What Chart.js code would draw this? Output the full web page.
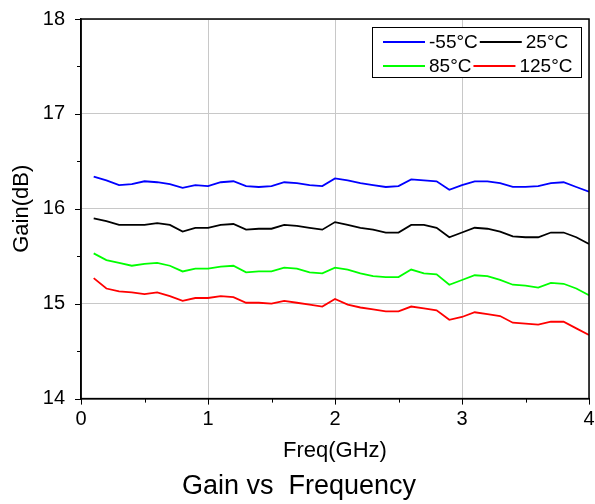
<!DOCTYPE html>
<html>
<head>
<meta charset="utf-8">
<script src="https://cdn.jsdelivr.net/npm/chart.js@4"></script>
<style>
  html, body { margin: 0; padding: 0; background: #fff; }
  #wrap { width: 595px; height: 504px; }
</style>
</head>
<body>
<div id="wrap"><canvas id="myChart" width="595" height="504"></canvas></div>
<script>
// frequency points (GHz)
var freq = [0.1, 0.2, 0.3, 0.4, 0.5, 0.6, 0.7, 0.8, 0.9, 1.0,
            1.1, 1.2, 1.3, 1.4, 1.5, 1.6, 1.7, 1.8, 1.9, 2.0,
            2.1, 2.2, 2.3, 2.4, 2.5, 2.6, 2.7, 2.8, 2.9, 3.0,
            3.1, 3.2, 3.3, 3.4, 3.5, 3.6, 3.7, 3.8, 3.9, 4.0];

// gain (dB) per temperature
var gainM55 = [16.34, 16.30, 16.25, 16.26, 16.29, 16.28, 16.26, 16.22, 16.25, 16.24,
               16.28, 16.29, 16.24, 16.23, 16.24, 16.28, 16.27, 16.25, 16.24, 16.32,
               16.30, 16.27, 16.25, 16.23, 16.24, 16.31, 16.30, 16.29, 16.20, 16.25,
               16.29, 16.29, 16.27, 16.23, 16.23, 16.24, 16.27, 16.28, 16.23, 16.18];
var gain25  = [15.90, 15.87, 15.83, 15.83, 15.83, 15.85, 15.83, 15.76, 15.80, 15.80,
               15.83, 15.84, 15.78, 15.79, 15.79, 15.83, 15.82, 15.80, 15.78, 15.86,
               15.83, 15.80, 15.78, 15.75, 15.75, 15.83, 15.83, 15.80, 15.70, 15.75,
               15.80, 15.79, 15.76, 15.71, 15.70, 15.70, 15.75, 15.75, 15.70, 15.63];
var gain85  = [15.53, 15.46, 15.43, 15.40, 15.42, 15.43, 15.40, 15.34, 15.37, 15.37,
               15.39, 15.40, 15.33, 15.34, 15.34, 15.38, 15.37, 15.33, 15.32, 15.38,
               15.36, 15.32, 15.29, 15.28, 15.28, 15.36, 15.32, 15.31, 15.20, 15.25,
               15.30, 15.29, 15.25, 15.20, 15.19, 15.17, 15.22, 15.21, 15.16, 15.09];
var gain125 = [15.27, 15.16, 15.13, 15.12, 15.10, 15.12, 15.08, 15.03, 15.06, 15.06,
               15.08, 15.07, 15.01, 15.01, 15.00, 15.03, 15.01, 14.99, 14.97, 15.05,
               14.99, 14.96, 14.94, 14.92, 14.92, 14.97, 14.95, 14.93, 14.83, 14.86,
               14.91, 14.89, 14.87, 14.80, 14.79, 14.78, 14.81, 14.81, 14.74, 14.67];

var seriesLabels = ['-55°C', '25°C', '85°C', '125°C'];
var seriesColors = ['#0000ff', '#000000', '#00ff00', '#ff0000'];
var seriesGains = [gainM55, gain25, gain85, gain125];

var FONT = "Arial, 'Liberation Sans', sans-serif";

function toPoints(g) {
    return freq.map(function (f, i) { return { x: f, y: g[i] }; });
}

var datasets = seriesGains.map(function (g, i) {
    return {
        label: seriesLabels[i],
        data: toPoints(g),
        borderColor: seriesColors[i],
        backgroundColor: seriesColors[i],
        borderWidth: 1.8,
        pointRadius: 0,
        tension: 0,
        fill: false
    };
});

function isMajor(v) { return Math.abs(v - Math.round(v)) < 1e-6; }

// frame on top/right + outward tick marks with minor ticks
var frameTicks = {
    id: 'frameTicks',
    afterDatasetsDraw: function (chart) {
        var c = chart.ctx, a = chart.chartArea;
        var xs = chart.scales.x, ys = chart.scales.y;
        c.save();
        c.strokeStyle = '#000';
        c.lineWidth = 1.5;
        c.strokeRect(a.left, a.top, a.right - a.left, a.bottom - a.top);
        c.lineWidth = 1;
        c.beginPath();
        xs.ticks.forEach(function (t) {
            var px = Math.round(xs.getPixelForValue(t.value)) + 0.5;
            var len = isMajor(t.value) ? 6 : 4;
            c.moveTo(px, a.bottom);
            c.lineTo(px, a.bottom + len);
        });
        ys.ticks.forEach(function (t) {
            var py = Math.round(ys.getPixelForValue(t.value)) + 0.5;
            var len = isMajor(t.value) ? 6 : 4;
            c.moveTo(a.left, py);
            c.lineTo(a.left - len, py);
        });
        c.stroke();
        c.restore();
    }
};

// boxed legend, two columns
var boxLegend = {
    id: 'boxLegend',
    afterDraw: function (chart) {
        var c = chart.ctx;
        var bx = 372, by = 27, bw = 209, bh = 50;
        c.save();
        c.fillStyle = '#fff';
        c.fillRect(bx, by, bw, bh);
        c.strokeStyle = '#000';
        c.lineWidth = 1;
        c.strokeRect(bx + 0.5, by + 0.5, bw, bh);
        c.font = '19px ' + FONT;
        c.textBaseline = 'middle';
        c.fillStyle = '#000';
        var rows = [[0, 1], [2, 3]];
        var rowY = [42, 66];
        rows.forEach(function (r, ri) {
            var x = 383, y = rowY[ri];
            r.forEach(function (di) {
                var ds = chart.data.datasets[di];
                c.strokeStyle = ds.borderColor;
                c.lineWidth = 1.8;
                c.beginPath();
                c.moveTo(x, y);
                c.lineTo(x + 42, y);
                c.stroke();
                x += 42 + 4;
                c.fillText(ds.label, x, y + 1);
                x += c.measureText(ds.label).width + 2;
            });
        });
        c.restore();
    }
};

var ctx = document.getElementById('myChart').getContext('2d');
var myChart = new Chart(ctx, {
    type: 'line',
    data: { datasets: datasets },
    options: {
        responsive: false,
        animation: false,
        layout: { padding: { left: 9, right: 6, top: 19, bottom: 0 } },
        plugins: {
            legend: { display: false },
            tooltip: { enabled: false },
            title: {
                display: true,
                position: 'bottom',
                text: 'Gain vs  Frequency',
                color: '#000',
                font: { family: FONT, size: 27, weight: 'normal' },
                padding: { top: 6, bottom: 1 }
            }
        },
        scales: {
            x: {
                type: 'linear',
                min: 0,
                max: 4,
                afterFit: function (s) { s.height = 66; s.paddingLeft = 0; s.paddingRight = 0; },
                ticks: {
                    stepSize: 0.5,
                    padding: 9,
                    color: '#000',
                    maxRotation: 0,
                    font: { family: FONT, size: 20 },
                    callback: function (v) { return isMajor(v) ? String(Math.round(v)) : ''; }
                },
                grid: {
                    drawTicks: false,
                    color: function (c) { return isMajor(c.tick.value) ? '#c8c8c8' : 'rgba(0,0,0,0)'; }
                },
                border: { color: '#000', width: 1.5 },
                title: {
                    display: true,
                    text: 'Freq(GHz)',
                    color: '#000',
                    padding: 0,
                    font: { family: FONT, size: 22 }
                }
            },
            y: {
                min: 14,
                max: 18,
                afterFit: function (s) { s.width = 72; s.paddingTop = 0; s.paddingBottom = 0; },
                ticks: {
                    stepSize: 0.5,
                    padding: 16,
                    color: '#000',
                    font: { family: FONT, size: 20 },
                    callback: function (v) { return isMajor(v) ? String(Math.round(v)) : ''; }
                },
                grid: {
                    drawTicks: false,
                    color: function (c) { return isMajor(c.tick.value) ? '#c8c8c8' : 'rgba(0,0,0,0)'; }
                },
                border: { color: '#000', width: 1.5 },
                title: {
                    display: true,
                    text: 'Gain(dB)',
                    color: '#000',
                    padding: 0,
                    font: { family: FONT, size: 22 }
                }
            }
        }
    },
    plugins: [frameTicks, boxLegend]
});
</script>
</body>
</html>
